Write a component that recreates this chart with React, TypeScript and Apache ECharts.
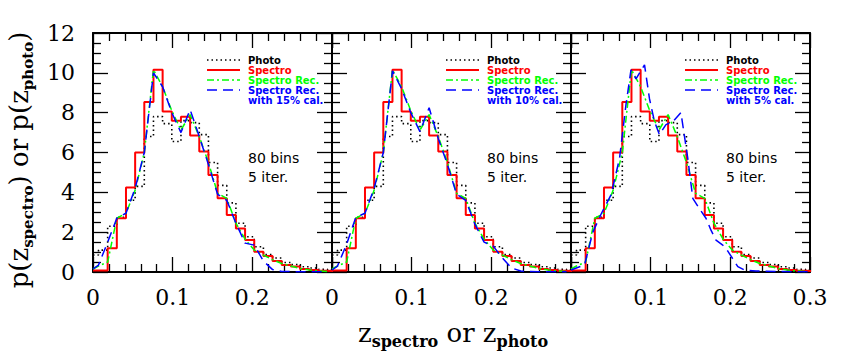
import React, { useEffect, useRef } from "react";
import * as echarts from "echarts";

// Left edges of the histogram bins (z), last bin closes at LAST_EDGE
const BIN_EDGES = [0.0, 0.0069, 0.0184, 0.0299, 0.0414, 0.0529, 0.0644, 0.0759, 0.0874, 0.0989, 0.1104, 0.1219, 0.1334, 0.1449, 0.1564, 0.1679, 0.1794, 0.1909, 0.2024, 0.2139, 0.2254, 0.2369, 0.2484, 0.2599, 0.2714, 0.2829, 0.2944];
const LAST_EDGE = 0.3059;

// Photometric redshift histogram (black dotted)
const PHOTO = [0.85, 1.1, 2.3, 2.75, 3.6, 4.3, 6.8, 7.8, 7.45, 6.55, 7.6, 7.5, 6.9, 5.5, 4.35, 3.47, 2.45, 1.77, 1.27, 0.88, 0.7, 0.48, 0.38, 0.26, 0.2, 0.13, 0.08];
// Spectroscopic redshift histogram (red solid)
const SPECTRO = [0.08, 0.08, 1.19, 2.7, 4.24, 6.0, 8.53, 10.15, 8.06, 7.59, 7.8, 6.85, 6.05, 4.87, 3.7, 2.86, 2.19, 1.61, 1.02, 0.8, 0.55, 0.35, 0.27, 0.15, 0.1, 0.06, 0.04];
// Reconstructed spectroscopic distribution (green dash-dot), sampled at BIN_EDGES
const SPECTRO_REC = [0.15, 0.3, 0.5, 2.7, 2.95, 4.1, 6.0, 10.15, 9.3, 8.1, 7.13, 7.9, 6.8, 5.5, 3.95, 3.7, 2.45, 1.65, 1.1, 0.85, 0.62, 0.43, 0.3, 0.18, 0.1, 0.05, 0.02];
// Reconstruction with calibration samples (blue dashed)
const REC_CAL15 = [0.15, 0.35, 1.5, 2.7, 2.95, 4.2, 6.0, 10.0, 9.3, 8.0, 7.0, 8.15, 6.8, 5.4, 3.9, 3.6, 2.45, 1.45, 1.35, 0.55, 0.12, 0.03, 0.02, 0.01, 0.01, 0.01, 0.01];
const REC_CAL10 = [0.1, 0.3, 1.4, 2.75, 2.95, 4.2, 6.0, 10.1, 9.2, 8.0, 7.05, 8.25, 6.7, 5.4, 3.9, 3.6, 2.4, 1.5, 1.3, 0.7, 0.2, 0.05, 0.02, 0.01, 0.01, 0.01, 0.01];
const REC_CAL5_X = [0, 0.017, 0.0274, 0.0377, 0.0502, 0.0609, 0.069, 0.0753, 0.0816, 0.0923, 0.0985, 0.1048, 0.111, 0.1192, 0.128, 0.138, 0.1466, 0.1529, 0.1592, 0.1694, 0.1757, 0.182, 0.1905, 0.1968, 0.2094, 0.2178, 0.2322, 0.26, 0.3];
const REC_CAL5 = [0.1, 0.35, 2.0, 2.9, 3.87, 5.7, 8.4, 10.15, 9.7, 10.4, 8.7, 7.55, 6.9, 7.4, 7.55, 8.0, 5.7, 3.7, 3.3, 2.7, 2.1, 1.6, 1.35, 1.05, 0.27, 0.1, 0.05, 0.02, 0.01];

const CAL_LABELS = ["with 15% cal.", "with 10% cal.", "with 5% cal."];
const LEGEND_LABELS = ["Photo", "Spectro", "Spectro Rec.", "Spectro Rec."];
const NOTE_LABELS = ["80 bins", "5 iter."];
const X_MIN = 0, X_MAX = 0.3, X_STEP = 0.1;
const Y_MIN = 0, Y_MAX = 12, Y_STEP = 2;

const COLORS = { photo: "#000000", spectro: "#ff0000", rec: "#00ff00", cal: "#0000ff" };

function hist(values: number[]) {
  const pts = BIN_EDGES.map((e, i) => [e, values[i]]);
  pts.push([LAST_EDGE, values[values.length - 1]]);
  return pts;
}
function curve(xs: number[], ys: number[]) {
  return xs.map((x, i) => [x, ys[i]]);
}

export default function App() {
  const ref = useRef<HTMLDivElement>(null);
  useEffect(() => {
    if (!ref.current) return;
    const chart = echarts.init(ref.current, undefined, { renderer: "svg" });
    const lefts = [93, 332, 571];
    const W = 239, TOP = 33, H = 239;
    const serif = "DejaVu Serif";
    const black = "#000";

    const grids = lefts.map((l) => ({ left: l, top: TOP, width: W, height: H, containLabel: false, outerBoundsMode: "none" }));
    const tickCommon = {
      axisLine: { show: true, onZero: false, lineStyle: { color: black, width: 2 } },
      axisTick: { show: true, inside: true, length: 15, lineStyle: { color: black, width: 1.3 } },
      minorTick: { show: true, length: 8, lineStyle: { color: black, width: 1.3 } },
      splitLine: { show: false },
      minorSplitLine: { show: false },
    };
    const xAxes: any[] = [];
    const yAxes: any[] = [];
    [0, 1].forEach((side) => {
      lefts.forEach((_, i) => {
        xAxes.push({
          type: "value", gridIndex: i, position: side === 0 ? "bottom" : "top",
          min: X_MIN, max: X_MAX, interval: X_STEP,
          ...tickCommon,
          minorTick: { ...tickCommon.minorTick, splitNumber: 5 },
          axisLabel: {
            show: side === 0, margin: 14, fontSize: 22, fontFamily: serif, color: black,
            showMinLabel: true, showMaxLabel: true,
            formatter: (v: number) => (v > 0.25 && i < 2 ? "" : String(Number(v.toFixed(1)))),
          },
        });
        yAxes.push({
          type: "value", gridIndex: i, position: side === 0 ? "left" : "right",
          min: Y_MIN, max: Y_MAX, interval: Y_STEP,
          ...tickCommon,
          minorTick: { ...tickCommon.minorTick, splitNumber: 4 },
          axisLabel: {
            show: side === 0 && i === 0, margin: 18, fontSize: 22, fontFamily: serif, color: black,
            showMinLabel: true, showMaxLabel: true,
            formatter: (v: number) => String(Math.round(v)),
          },
        });
      });
    });

    const cals = [curve(BIN_EDGES, REC_CAL15), curve(BIN_EDGES, REC_CAL10), curve(REC_CAL5_X, REC_CAL5)];
    const series: any[] = [];
    lefts.forEach((_, i) => {
      const common = { type: "line", xAxisIndex: i, yAxisIndex: i, symbol: "none", silent: true, clip: true };
      series.push({ ...common, name: "Photo", step: "end", data: hist(PHOTO), lineStyle: { color: COLORS.photo, width: 1.6, type: [1.5, 3] }, z: 2 });
      series.push({ ...common, name: "Spectro", step: "end", data: hist(SPECTRO), lineStyle: { color: COLORS.spectro, width: 2 }, z: 3 });
      series.push({ ...common, name: "Spectro Rec.", data: curve(BIN_EDGES, SPECTRO_REC), lineStyle: { color: COLORS.rec, width: 1.5, type: [7, 3, 2, 3] }, z: 4 });
      series.push({ ...common, name: "Spectro Rec. cal", data: cals[i], lineStyle: { color: COLORS.cal, width: 1.5, type: [10, 6] }, z: 5 });
    });

    const graphics: any[] = [];
    const legendColors = [COLORS.photo, COLORS.spectro, COLORS.rec, COLORS.cal];
    const legendDash: any[] = [[1.5, 3], null, [7, 3, 2, 3], [10, 6]];
    const legendWidth = [1.6, 2, 1.5, 1.5];
    const legendFont = { fontSize: 10, fontWeight: "bold", fontFamily: "DejaVu Sans", align: "left", verticalAlign: "middle" };
    lefts.forEach((l, i) => {
      const rows = [60, 70, 80, 90];
      rows.forEach((y, r) => {
        graphics.push({
          type: "line", silent: true,
          shape: { x1: l + 114, y1: y, x2: l + 147, y2: y },
          style: { stroke: legendColors[r], lineWidth: legendWidth[r], lineDash: legendDash[r] || undefined },
        });
        graphics.push({
          type: "text", silent: true, x: l + 155, y,
          style: { text: LEGEND_LABELS[r], fill: legendColors[r], ...legendFont },
        });
      });
      graphics.push({
        type: "text", silent: true, x: l + 155, y: 100,
        style: { text: CAL_LABELS[i], fill: COLORS.cal, ...legendFont },
      });
      NOTE_LABELS.forEach((t, k) => {
        graphics.push({
          type: "text", silent: true, x: l + 155, y: 158 + k * 19,
          style: { text: t, fill: black, fontSize: 14, fontFamily: "DejaVu Sans", align: "left", verticalAlign: "middle" },
        });
      });
    });
    const richX = {
      m: { fontSize: 26, fontFamily: serif, lineHeight: 32, verticalAlign: "middle", fill: black },
      s: { fontSize: 16, fontFamily: serif, fontWeight: "bold", lineHeight: 10, verticalAlign: "bottom", fill: black },
    };
    const richY = {
      m: { fontSize: 26, fontFamily: serif, lineHeight: 32, verticalAlign: "middle", fill: black },
      s: { fontSize: 15, fontFamily: serif, fontWeight: "bold", lineHeight: 10, verticalAlign: "bottom", fill: black },
    };
    graphics.push({
      type: "text", silent: true, x: 453, y: 333,
      style: { text: "{m|z}{s|spectro}{m| or }{m|z}{s|photo}", rich: richX, align: "center", verticalAlign: "middle" },
    });
    graphics.push({
      type: "text", silent: true, x: 19, y: 160, rotation: Math.PI / 2,
      style: { text: "{m|p(z}{s|spectro}{m|) or p(z}{s|photo}{m|)}", rich: richY, align: "center", verticalAlign: "middle" },
    });

    chart.setOption({
      animation: false,
      backgroundColor: "#ffffff",
      grid: grids,
      xAxis: xAxes,
      yAxis: yAxes,
      series,
      graphic: { elements: graphics },
    });
    return () => chart.dispose();
  }, []);
  return <div ref={ref} style={{ position: "fixed", left: 0, top: 0, width: 855, height: 364 }} />;
}
